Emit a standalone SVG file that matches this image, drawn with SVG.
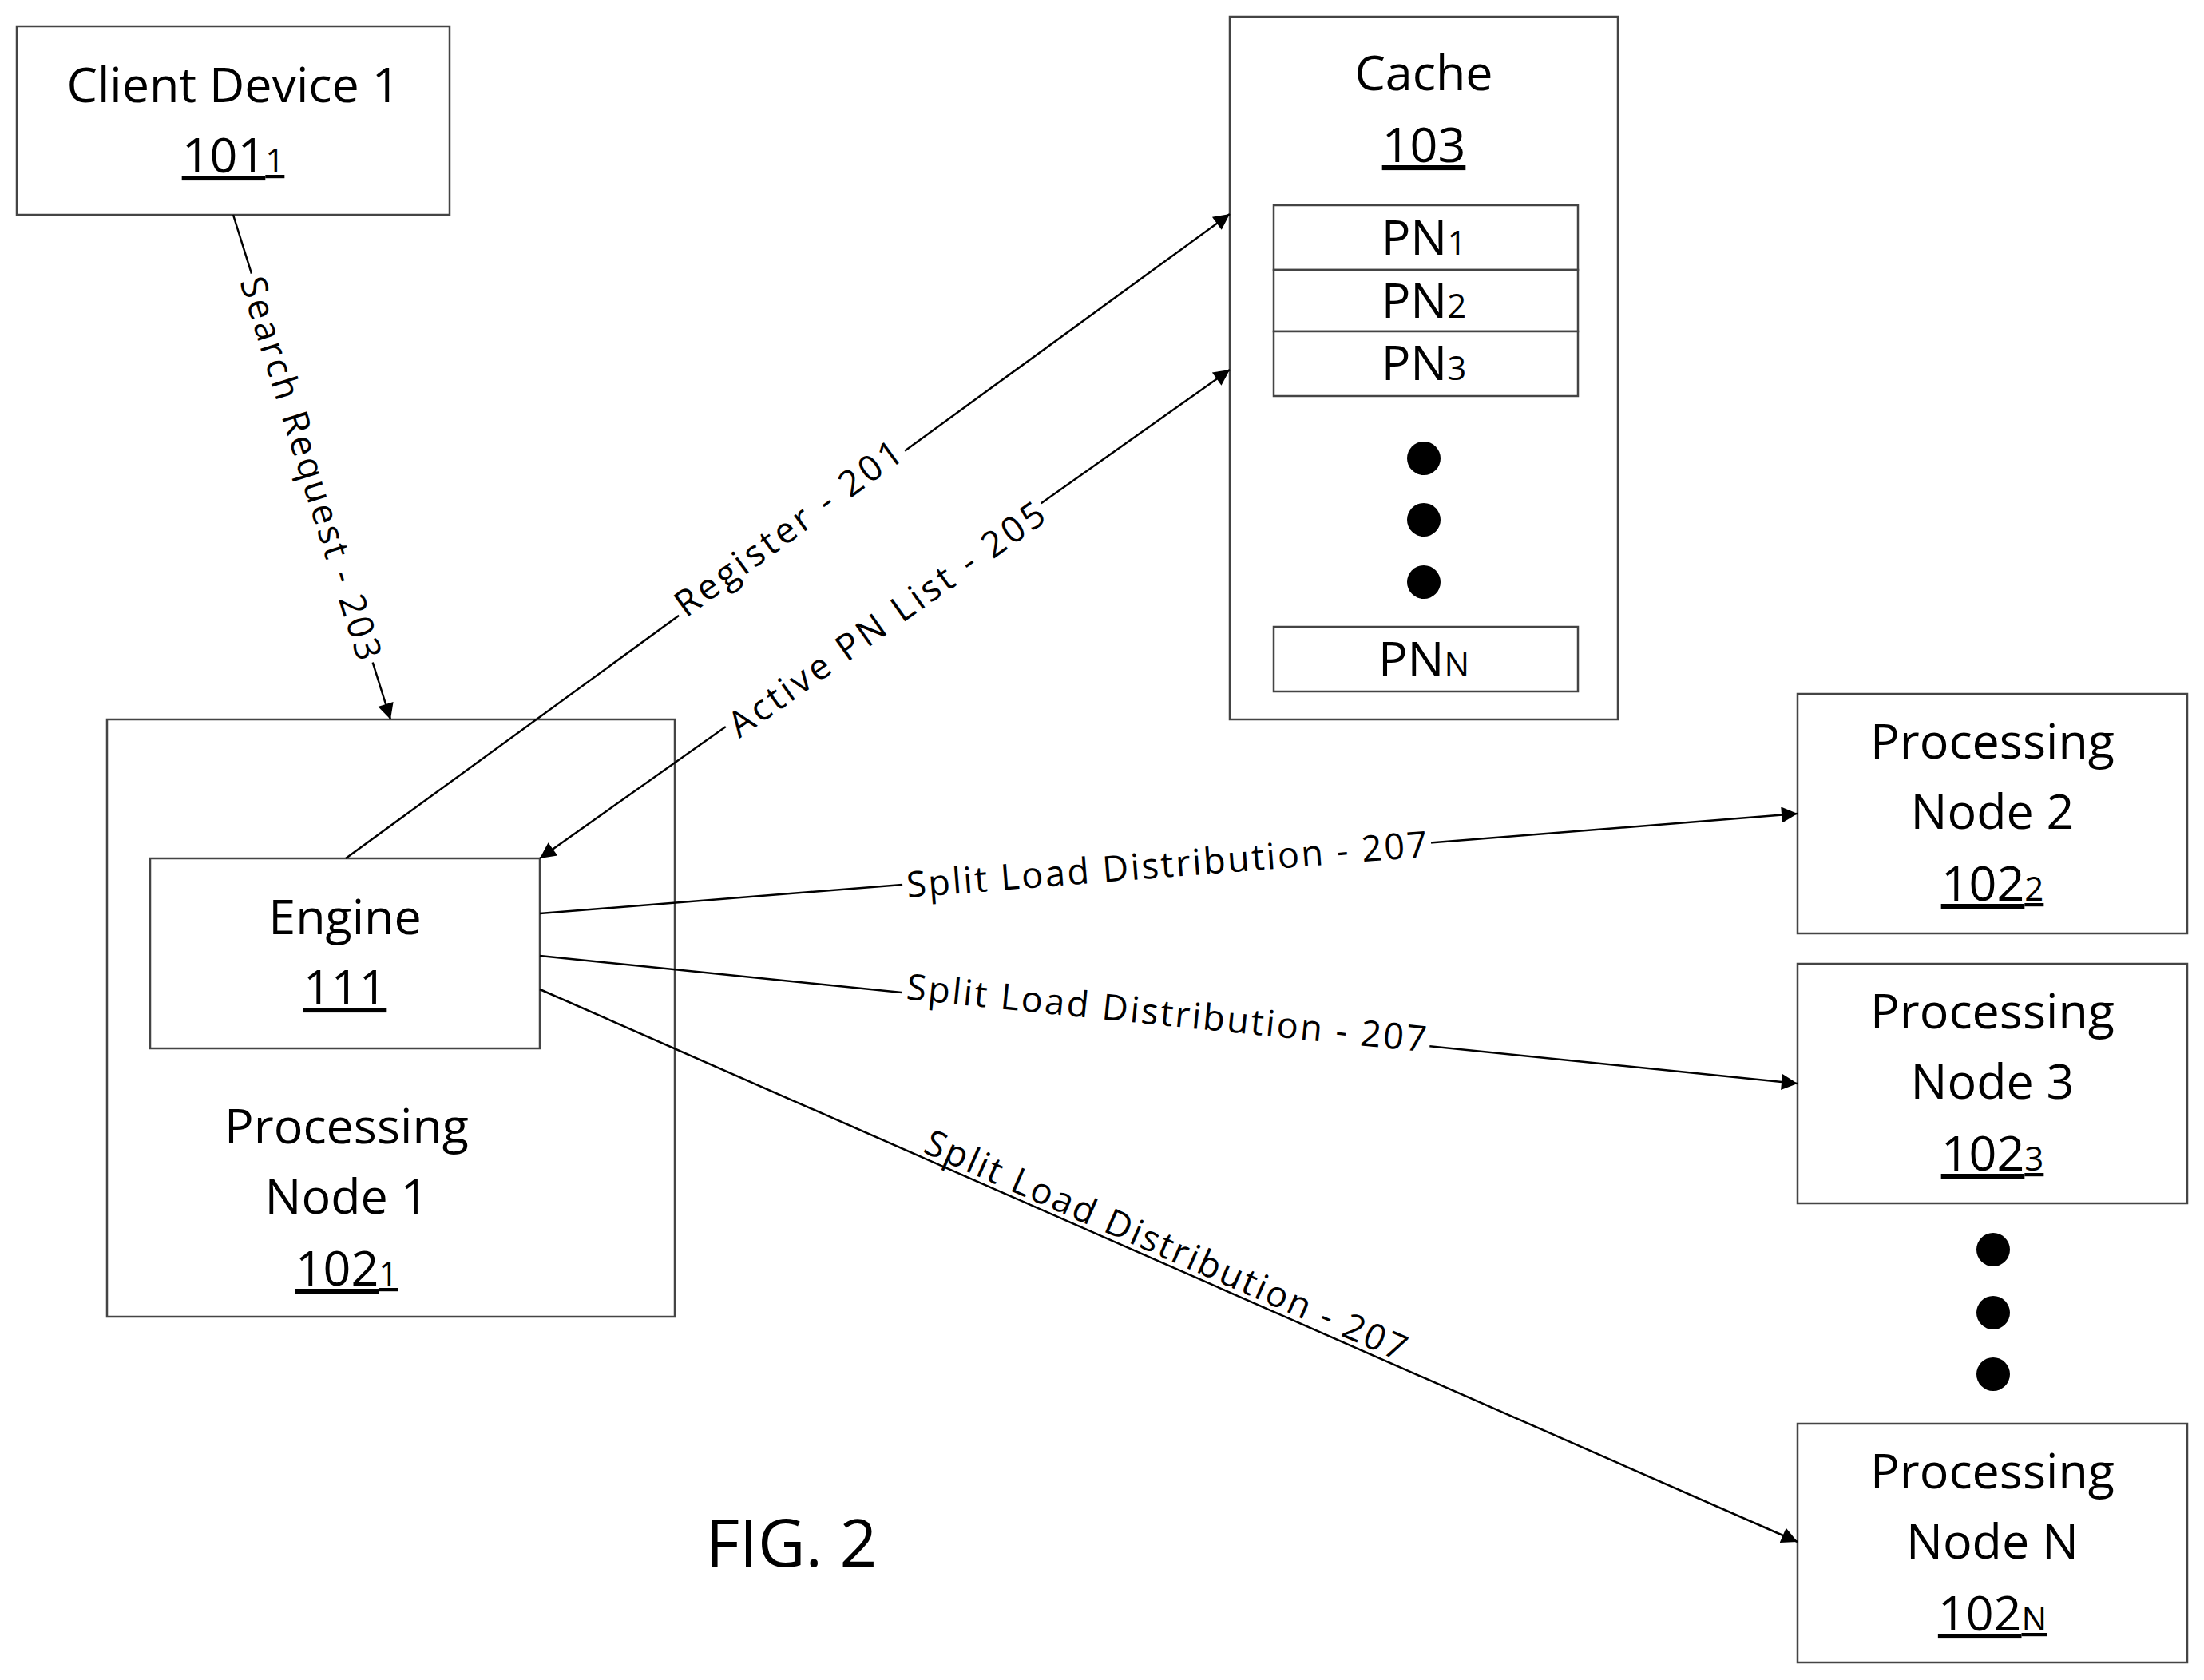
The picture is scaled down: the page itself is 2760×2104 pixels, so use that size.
<svg xmlns="http://www.w3.org/2000/svg" width="2760" height="2104" viewBox="0 0 2760 2104">
<style>
.b{fill:#fff;stroke:#444;stroke-width:2.5}
.t{font-family:"Open Sans","Liberation Sans",sans-serif;font-size:61px;fill:#000;text-anchor:middle}
.u{text-decoration:underline}
.s{font-size:42px}
.c{stroke:#000;stroke-width:2.5;fill:none}
.l{font-family:"Open Sans","Liberation Sans",sans-serif;font-size:45px;fill:#000;text-anchor:middle;dominant-baseline:central}
.w{fill:#fff}
</style>
<defs>
<marker id="m" viewBox="0 0 10 10" refX="10" refY="5" markerWidth="24" markerHeight="20" markerUnits="userSpaceOnUse" orient="auto-start-reverse"><path d="M0,0L10,5L0,10z" fill="#000"/></marker></defs>
<rect width="2760" height="2104" fill="#fff"/>
<g id="client"><rect class="b" x="21" y="33" width="542" height="236"/><text class="t" x="292" y="128">Client Device 1</text><text class="t u" x="292" y="216">101<tspan class="s">1</tspan></text></g>
<g id="cache"><rect class="b" x="1540" y="21" width="486" height="880"/><text class="t" x="1783" y="113">Cache</text><text class="t u" x="1783" y="203">103</text>
<rect class="b" x="1595" y="257" width="381" height="81"/><rect class="b" x="1595" y="338" width="381" height="77"/><rect class="b" x="1595" y="415" width="381" height="81"/>
<text class="t" x="1783" y="319">PN<tspan class="s">1</tspan></text><text class="t" x="1783" y="398">PN<tspan class="s">2</tspan></text><text class="t" x="1783" y="476">PN<tspan class="s">3</tspan></text>
<circle cx="1783" cy="574" r="21"/><circle cx="1783" cy="651" r="21"/><circle cx="1783" cy="729" r="21"/>
<rect class="b" x="1595" y="785" width="381" height="81"/><text class="t" x="1783" y="847">PN<tspan class="s">N</tspan></text></g>
<g id="pn1"><rect class="b" x="134" y="901" width="711" height="748"/><text class="t" x="434" y="1432">Processing</text><text class="t" x="434" y="1520">Node 1</text><text class="t u" x="434" y="1610">102<tspan class="s">1</tspan></text></g>
<g id="engine"><rect class="b" x="188" y="1075" width="488" height="238"/><text class="t" x="432" y="1170">Engine</text><text class="t u" x="432" y="1258">111</text></g>
<g id="pn2"><rect class="b" x="2251" y="869" width="488" height="300"/><text class="t" x="2495" y="950">Processing</text><text class="t" x="2495" y="1038">Node 2</text><text class="t u" x="2495" y="1128">102<tspan class="s">2</tspan></text></g>
<g id="pn3"><rect class="b" x="2251" y="1207" width="488" height="300"/><text class="t" x="2495" y="1288">Processing</text><text class="t" x="2495" y="1376">Node 3</text><text class="t u" x="2495" y="1466">102<tspan class="s">3</tspan></text></g>
<g id="dots"><circle cx="2496" cy="1565" r="21"/><circle cx="2496" cy="1644" r="21"/><circle cx="2496" cy="1721" r="21"/></g>
<g id="pnN"><rect class="b" x="2251" y="1783" width="488" height="299"/><text class="t" x="2495" y="1864">Processing</text><text class="t" x="2495" y="1952">Node N</text><text class="t u" x="2495" y="2042">102<tspan class="s">N</tspan></text></g>
<text class="t" x="991" y="1962" style="font-size:82px">FIG. 2</text>
<g id="connectors">
<line class="c" x1="292" y1="269" x2="489" y2="901" marker-end="url(#m)"/>
<line class="c" x1="433" y1="1075" x2="1540" y2="268" marker-end="url(#m)"/>
<line class="c" x1="1540" y1="463" x2="676" y2="1075" marker-start="url(#m)" marker-end="url(#m)"/>
<line class="c" x1="676" y1="1144" x2="2251" y2="1019" marker-end="url(#m)"/>
<line class="c" x1="676" y1="1197" x2="2251" y2="1357" marker-end="url(#m)"/>
<line class="c" x1="676" y1="1239" x2="2251" y2="1931" marker-end="url(#m)"/>
<g transform="translate(391,586) rotate(72.7)"><rect class="w" x="-255" y="-22" width="510" height="44"/><text class="l" textLength="500">Search Request - 203</text></g>
<g transform="translate(986,660) rotate(-36.1)"><rect class="w" x="-175" y="-22" width="350" height="44"/><text class="l" textLength="340">Register - 201</text></g>
<g transform="translate(1109,774) rotate(-35.3)"><rect class="w" x="-242" y="-22" width="484" height="44"/><text class="l" textLength="474">Active PN List - 205</text></g>
<g transform="translate(1461,1081) rotate(-4.5)"><rect class="w" x="-332" y="-22" width="664" height="44"/><text class="l" textLength="654">Split Load Distribution - 207</text></g>
<g transform="translate(1461,1267) rotate(5.8)"><rect class="w" x="-332" y="-22" width="664" height="44"/><text class="l" textLength="654">Split Load Distribution - 207</text></g>
<g transform="translate(1461,1558) rotate(23.7)"><rect class="w" x="-332" y="-22" width="664" height="44"/><text class="l" textLength="654">Split Load Distribution - 207</text></g>
</g>
</svg>
